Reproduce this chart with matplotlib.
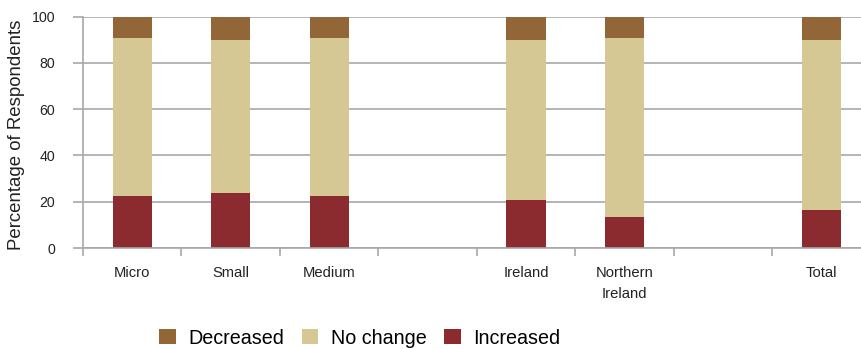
import matplotlib.pyplot as plt
import numpy as np

plt.rcParams["font.family"] = ["Liberation Sans", "DejaVu Sans"]

categories = ["Micro", "Small", "Medium", "", "Ireland", "Northern\nIreland", "", "Total"]
increased = [22.5, 23.9, 22.6, 0, 20.7, 13.4, 0, 16.4]
no_change = [68.2, 65.9, 68.1, 0, 69.1, 77.3, 0, 73.4]
decreased = [9.3, 10.2, 9.3, 0, 10.2, 9.3, 0, 10.2]

col_inc = "#8B2A2F"
col_nc = "#D6C895"
col_dec = "#936637"
grey = "#A8A8A8"

fig = plt.figure(figsize=(8.62, 3.49), dpi=100)
ax = fig.add_axes([83 / 862, 1 - 248 / 349, 1 - 83 / 862, (248 - 16.5) / 349])

x = np.arange(len(categories))
inc = np.array(increased)
nc = np.array(no_change)
dec = np.array(decreased)

ax.bar(x, inc, width=0.4, color=col_inc, label="Increased", zorder=3)
ax.bar(x, nc, width=0.4, bottom=inc, color=col_nc, label="No change", zorder=3)
ax.bar(x, dec, width=0.4, bottom=inc + nc, color=col_dec, label="Decreased", zorder=3)

ax.set_xlim(-0.5, 7.41)
ax.set_ylim(0, 100)
ax.set_yticks([0, 20, 40, 60, 80, 100])
ax.yaxis.grid(True, color=grey, linewidth=1.2, zorder=0)
ax.tick_params(axis="y", length=7, width=1.2, color=grey, pad=13, labelsize=10.2, labelcolor="#222222")

ax.set_xticks(x)
ax.set_xticklabels(categories, linespacing=1.6)
ax.set_xticks(np.arange(-0.5, 7, 1), minor=True)
ax.tick_params(axis="x", which="major", length=0, pad=13, labelsize=10.6, labelcolor="#222222")
ax.tick_params(axis="x", which="minor", length=6, width=1.2, color=grey)

for s in ["top", "right"]:
    ax.spines[s].set_visible(False)
for s in ["left", "bottom"]:
    ax.spines[s].set_color(grey)
    ax.spines[s].set_linewidth(1.2)
    ax.spines[s].set_zorder(4)

fig.text(17 / 862, 1 - 135 / 349, "Percentage of Respondents", rotation=90,
         ha="center", va="center", fontsize=13.4, color="#222222")

handles, labels = ax.get_legend_handles_labels()
fig.legend(handles[::-1], labels[::-1], loc="center", bbox_to_anchor=(360 / 862, 1 - 338 / 349),
           ncol=3, frameon=False, fontsize=14.2, handlelength=0.82, handleheight=0.82,
           handletextpad=0.65, columnspacing=0.9)

fig.savefig("out.png", dpi=100)
